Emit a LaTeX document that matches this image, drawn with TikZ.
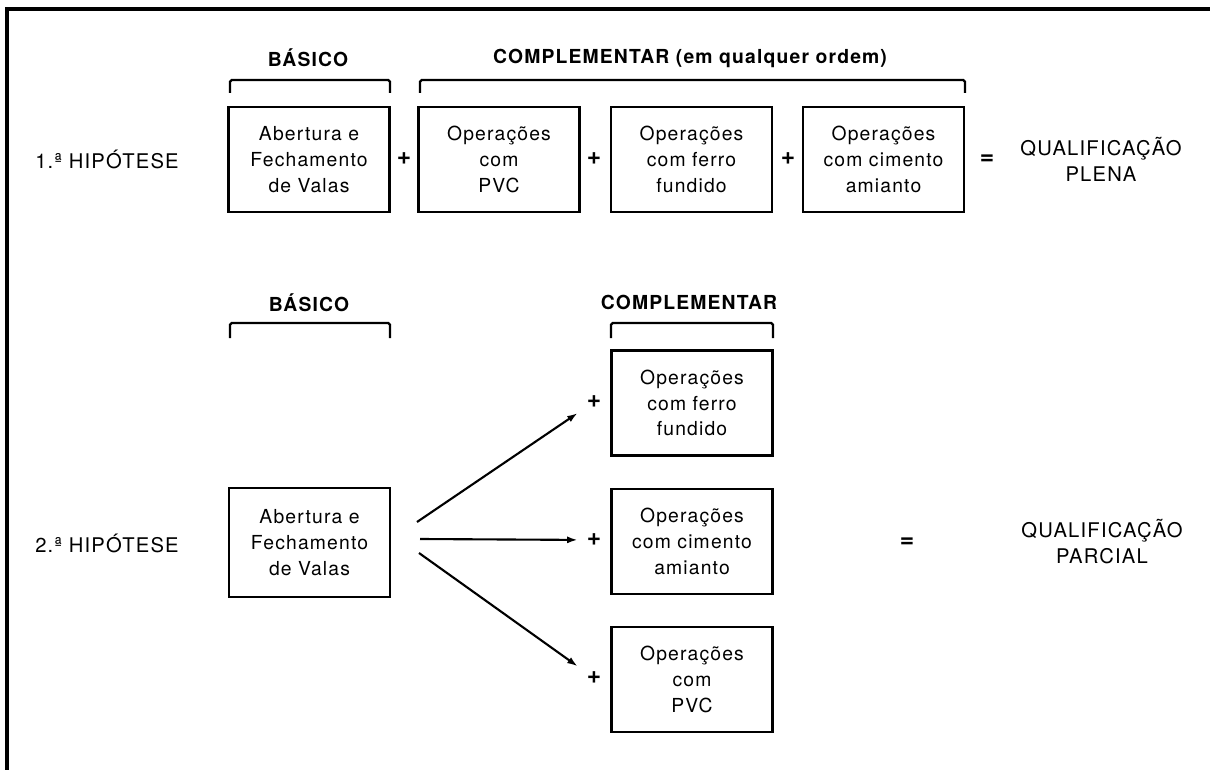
\documentclass[tikz,border=0pt]{standalone}
\usepackage{fontspec}
\setmainfont[LetterSpace=6]{TeX Gyre Heros}
\usetikzlibrary{positioning,arrows.meta}

\tikzset{
	opbox/.style={draw, line width=1.5pt, minimum width=3.22cm, minimum height=2.1cm, inner sep=0pt, align=center, font=\fontsize{11}{14.7}\selectfont},
	head/.style={font=\fontsize{11}{12}\selectfont\bfseries},
	caption/.style={align=center, font=\fontsize{11.5}{14.7}\selectfont},
	sign/.style={inner sep=5pt, font=\fontsize{14}{14}\selectfont\bfseries},
	brace/.style={line width=1.3pt, rounded corners=1pt},
	fan/.style={line width=1.2pt, -{Latex[length=6pt,width=4pt]}},
}

\begin{document}
\begin{tikzpicture}[x=0.02cm, y=-0.02cm]
	\useasboundingbox (0, 0) rectangle (1210, 770);
	\draw[line width=2pt] (7, 770) -- (7, 9) -- (1210, 9);

	% 1.a hipotese
	\node[caption] (hipA) at (107, 159) {1.ª HIPÓTESE};
	\node[opbox] (basA) at (309, 159.5) {Abertura e\\Fechamento\\de Valas};
	\node[opbox] (pvcA) at (499, 159.5) {Operações\\com\\PVC};
	\node[opbox] (ferA) at (691.5, 159.5) {Operações\\com ferro\\fundido};
	\node[opbox] (cimA) at (883.5, 159.5) {Operações\\com cimento\\amianto};

	\node[sign] (plA1) at (404, 159) {+};
	\node[sign] (plA2) at (594, 159) {+};
	\node[sign] (plA3) at (788, 159) {+};
	\node[sign] (eqA) at (987, 160) {=};
	\node[caption] (quaA) at (1101, 159) {QUALIFICAÇÃO\\PLENA};

	\draw[brace] (230, 93) -- (230, 80) -- (390, 80) -- (390, 93);
	\draw[brace] (420, 93) -- (420, 80) -- (965, 80) -- (965, 93);
	\node[head] (hbasA) at (308, 58) {BÁSICO};
	\node[head] (hcomA) at (690, 58) {COMPLEMENTAR (em qualquer ordem)};

	% 2.a hipotese
	\node[caption] (hipB) at (107, 543) {2.ª HIPÓTESE};
	\node[opbox, minimum height=2.18cm] (basB) at (309.5, 542.5) {Abertura e\\Fechamento\\de Valas};
	\node[opbox] (ferB) at (692, 403) {Operações\\com ferro\\fundido};
	\node[opbox] (cimB) at (692, 541.5) {Operações\\com cimento\\amianto};
	\node[opbox] (pvcB) at (692, 679.5) {Operações\\com\\PVC};

	\draw[brace] (230, 338) -- (230, 323) -- (390, 323) -- (390, 338);
	\draw[brace] (611, 338) -- (611, 323) -- (773, 323) -- (773, 338);
	\node[head] (hbasB) at (309, 303) {BÁSICO};
	\node[head] (hcomB) at (689, 302) {COMPLEMENTAR};

	\node[sign] (plB1) at (594, 402) {+};
	\node[sign] (plB2) at (594, 540) {+};
	\node[sign] (plB3) at (594, 678) {+};

	\coordinate (fanU) at (417, 522);
	\coordinate (fanM) at (420, 539);
	\coordinate (fanD) at (419, 553);
	\draw[fan] (fanU) -- (plB1);
	\draw[fan] (fanM) -- (plB2);
	\draw[fan] (fanD) -- (plB3);

	\node[sign] (eqB) at (907, 543) {=};
	\node[caption] (quaB) at (1102, 541.5) {QUALIFICAÇÃO\\PARCIAL};

\end{tikzpicture}
\end{document}
